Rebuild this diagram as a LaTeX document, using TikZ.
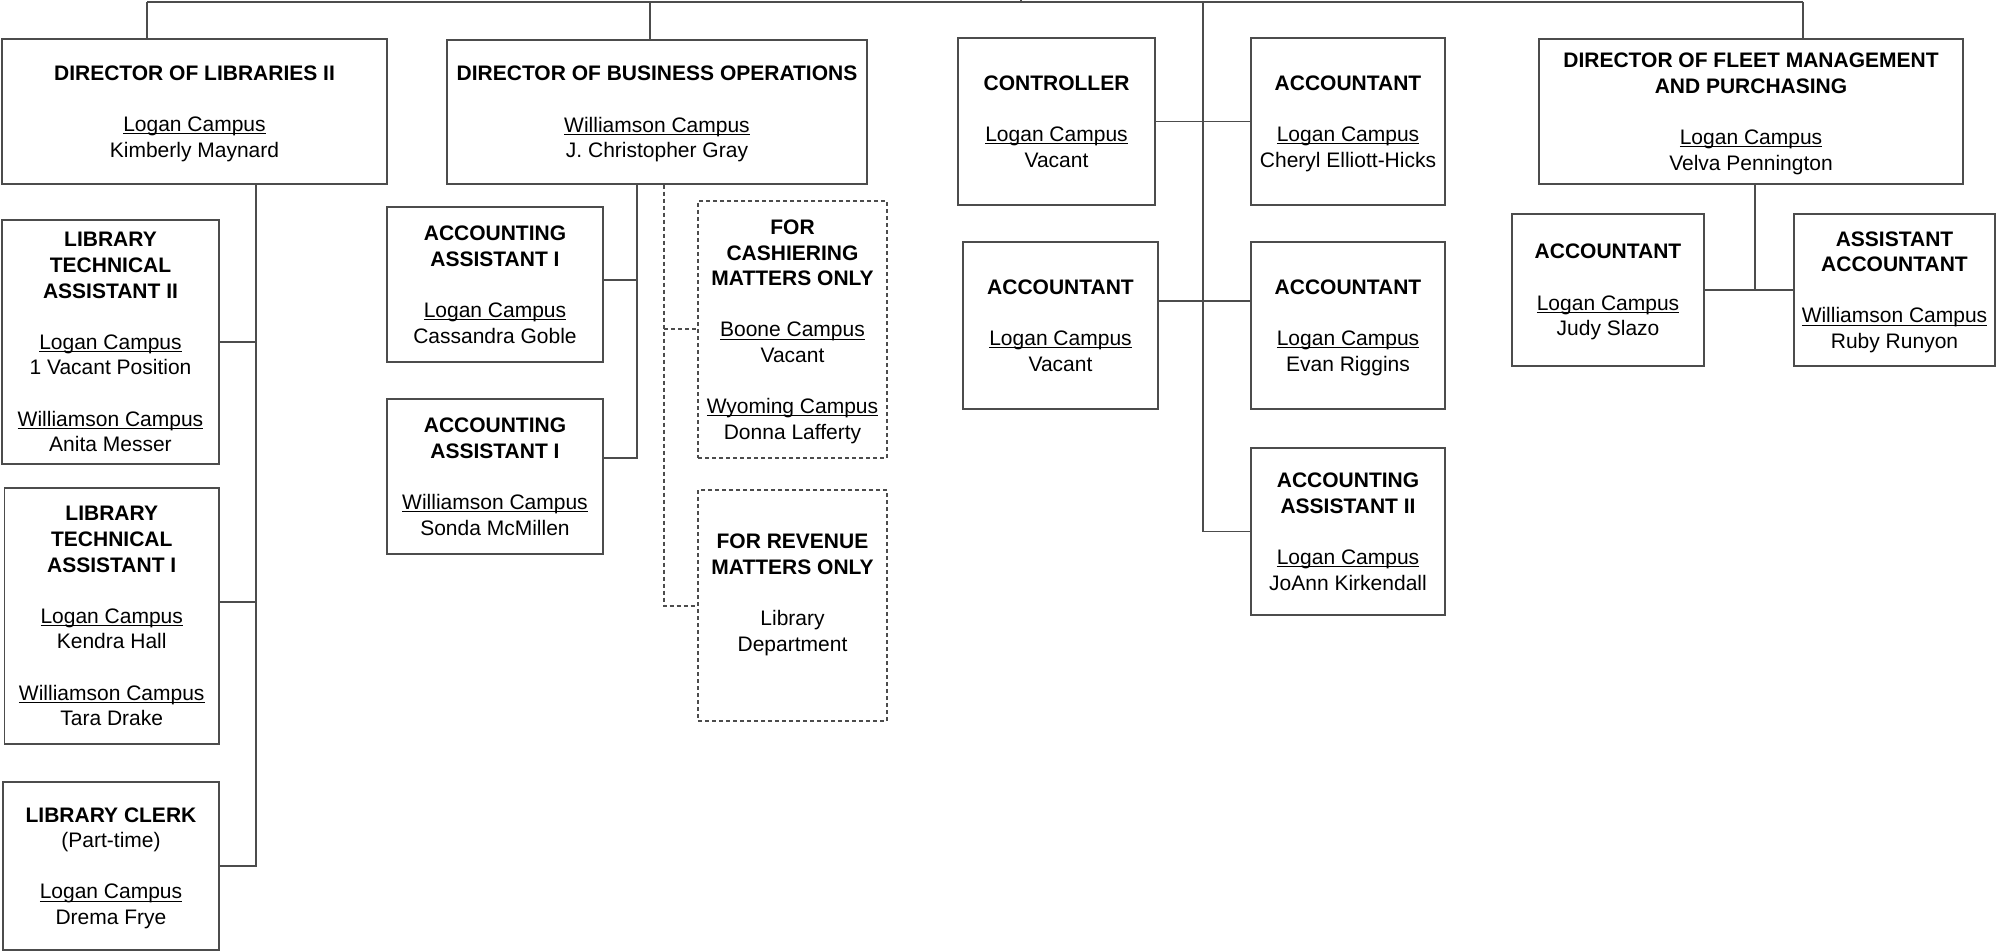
\documentclass[tikz,border=0pt]{standalone}
\usepackage{fontspec}
\setmainfont{Liberation Sans}
\usetikzlibrary{calc}
\newsavebox\campbox
\newcommand\campus[1]{\sbox\campbox{#1}\rlap{\rule[-1.4pt]{\wd\campbox}{0.5pt}}\usebox\campbox}
\newcommand\brk{\\[12.8pt]}
\begin{document}
\begin{tikzpicture}[x=0.5pt,y=-0.5pt,
  box/.style={draw=black!70, line width=0.65pt, align=center, inner sep=0pt,
    text depth=0pt, font=\fontsize{10.5}{12.8}\selectfont, text=black},
  dbox/.style={box, dash pattern=on 2pt off 1.5pt},
  conn/.style={draw=black!70, line width=0.65pt},
  dconn/.style={conn, dash pattern=on 2pt off 1.5pt}]
\useasboundingbox (0,0) rectangle (1996,952);

% top row
\node[box, minimum width=192.5pt, minimum height=72.5pt] (dirlib) at (194.5,111.5)
  {\textbf{DIRECTOR OF LIBRARIES II}\brk\campus{Logan Campus}\\Kimberly Maynard};
\node[box, minimum width=210pt, minimum height=72pt] (dirbus) at (657,112)
  {\textbf{DIRECTOR OF BUSINESS OPERATIONS}\brk\campus{Williamson Campus}\\J. Christopher Gray};
\node[box, minimum width=98.5pt, minimum height=83.5pt] (ctrl) at (1056.5,121.5)
  {\textbf{CONTROLLER}\brk\campus{Logan Campus}\\Vacant};
\node[box, minimum width=97pt, minimum height=83.5pt] (acc1) at (1348,121.5)
  {\textbf{ACCOUNTANT}\brk\campus{Logan Campus}\\Cheryl Elliott-Hicks};
\node[box, minimum width=212pt, minimum height=72.5pt] (fleet) at (1751,111.5)
  {\textbf{DIRECTOR OF FLEET MANAGEMENT}\\\textbf{AND PURCHASING}\brk\campus{Logan Campus}\\Velva Pennington};

% library column
\node[box, minimum width=108.5pt, minimum height=122pt] (lta2) at (110.5,342)
  {\textbf{LIBRARY}\\\textbf{TECHNICAL}\\\textbf{ASSISTANT II}\brk\campus{Logan Campus}\\1 Vacant Position\brk\campus{Williamson Campus}\\Anita Messer};
\node[box, minimum width=107.25pt, minimum height=128pt] (lta1) at (111.75,616)
  {\textbf{LIBRARY}\\\textbf{TECHNICAL}\\\textbf{ASSISTANT I}\brk\campus{Logan Campus}\\Kendra Hall\brk\campus{Williamson Campus}\\Tara Drake};
\node[box, minimum width=108pt, minimum height=84pt] (clerk) at (111,866)
  {\textbf{LIBRARY CLERK}\\(Part-time)\brk\campus{Logan Campus}\\Drema Frye};

% business column
\node[box, minimum width=108pt, minimum height=77.5pt] (aa1a) at (495,284.5)
  {\textbf{ACCOUNTING}\\\textbf{ASSISTANT I}\brk\campus{Logan Campus}\\Cassandra Goble};
\node[box, minimum width=108pt, minimum height=77.5pt] (aa1b) at (495,476.5)
  {\textbf{ACCOUNTING}\\\textbf{ASSISTANT I}\brk\campus{Williamson Campus}\\Sonda McMillen};
\node[dbox, minimum width=94.5pt, minimum height=128.5pt] (cash) at (792.5,329.5)
  {\textbf{FOR}\\\textbf{CASHIERING}\\\textbf{MATTERS ONLY}\brk\campus{Boone Campus}\\Vacant\brk\campus{Wyoming Campus}\\Donna Lafferty};
\node[dbox, minimum width=94.5pt, minimum height=115.5pt] (rev) at (792.5,605.5)
  {\textbf{FOR REVENUE}\\\textbf{MATTERS ONLY}\brk Library\\Department\\\mbox{}};

% controller group
\node[box, minimum width=97.5pt, minimum height=83.5pt] (acc2) at (1060.5,325.5)
  {\textbf{ACCOUNTANT}\brk\campus{Logan Campus}\\Vacant};
\node[box, minimum width=97pt, minimum height=83.5pt] (acc3) at (1348,325.5)
  {\textbf{ACCOUNTANT}\brk\campus{Logan Campus}\\Evan Riggins};
\node[box, minimum width=97pt, minimum height=83.5pt] (aa2) at (1348,531.5)
  {\textbf{ACCOUNTING}\\\textbf{ASSISTANT II}\brk\campus{Logan Campus}\\JoAnn Kirkendall};

% fleet group
\node[box, minimum width=96pt, minimum height=76pt] (judy) at (1608,290)
  {\textbf{ACCOUNTANT}\brk\campus{Logan Campus}\\Judy Slazo};
\node[box, minimum width=100.5pt, minimum height=76pt] (asstacc) at (1894.5,290)
  {\textbf{ASSISTANT}\\\textbf{ACCOUNTANT}\brk\campus{Williamson Campus}\\Ruby Runyon};

% top connectors
\coordinate (tl) at (147,2);
\coordinate (tr) at (1803,2);
\coordinate (tk) at (1021,0);
\coordinate (tkb) at (1021,3);
\coordinate (tb) at (650,2);
\coordinate (tc) at (1203,2);
\coordinate (cj) at (1203,531.5);
\draw[conn] (tl) -- (tr);
\draw[conn] (tk) -- (tkb);
\draw[conn] (tl) -- (tl |- dirlib.north);
\draw[conn] (tb) -- (tb |- dirbus.north);
\draw[conn] (tr) -- (tr |- fleet.north);
\draw[conn] (tc) -- (cj) -- (cj -| aa2.west);

% library connectors
\coordinate (lv) at (256,866);
\coordinate (lj1) at (256,602);
\draw[conn] (lv |- dirlib.south) -- (lv) -- (lv -| clerk.east);
\draw[conn] (lta2.east) -- (lta2.east -| lv);
\draw[conn] (lj1) -- (lj1 -| lta1.east);

% business connectors
\coordinate (bv) at (637,458);
\coordinate (bj1) at (637,280);
\draw[conn] (bv |- dirbus.south) -- (bv) -- (bv -| aa1b.east);
\draw[conn] (bj1) -- (bj1 -| aa1a.east);
\coordinate (dv) at (664,606);
\coordinate (dj1) at (664,329);
\draw[dconn] (dv |- dirbus.south) -- (dv) -- (dv -| rev.west);
\draw[dconn] (dj1) -- (dj1 -| cash.west);

% controller connectors
\draw[conn] (ctrl.east) -- (acc1.west);
\coordinate (cj2) at (1203,301);
\draw[conn] (cj2 -| acc2.east) -- (cj2 -| acc3.west);

% fleet connectors
\coordinate (fj) at (1755,290);
\draw[conn] (fj |- fleet.south) -- (fj);
\draw[conn] (judy.east) -- (asstacc.west);
\end{tikzpicture}
\end{document}
